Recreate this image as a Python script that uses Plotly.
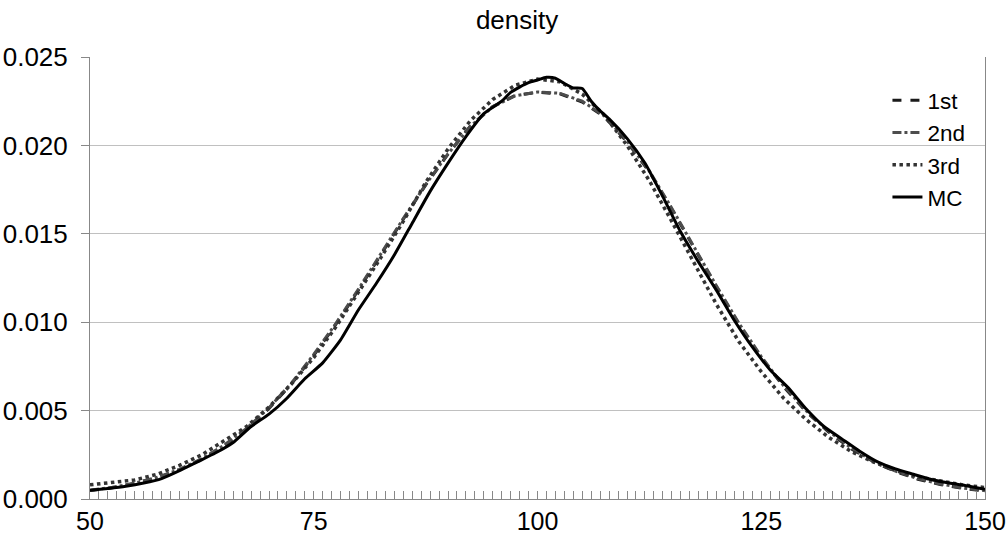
import plotly.graph_objects as go

# ---- data ----
x_grid = [50, 52.5, 55, 57.5, 60, 62.5, 65, 67.5, 70, 72.5, 75, 77.5, 80, 82.5, 85, 87.5,
          90, 92.5, 95, 97.5, 100, 102.5, 105, 107.5, 110, 112.5, 115, 117.5, 120, 122.5,
          125, 127.5, 130, 132.5, 135, 137.5, 140, 142.5, 145, 147.5, 150]

first = [0.00048, 0.00063, 0.00088, 0.00120, 0.00165, 0.00225, 0.00300, 0.00395, 0.00512, 0.00650,
         0.00812, 0.00990, 0.01182, 0.01383, 0.01582, 0.01775, 0.01950, 0.02110, 0.02220, 0.02282,
         0.02300, 0.02292, 0.02245, 0.02160, 0.02020, 0.01850, 0.01640, 0.01420, 0.01200, 0.00990,
         0.00800, 0.00635, 0.00495, 0.00380, 0.00285, 0.00212, 0.00155, 0.00112, 0.00082, 0.00060,
         0.00045]

second = [0.00050, 0.00066, 0.00090, 0.00123, 0.00168, 0.00228, 0.00305, 0.00400, 0.00516, 0.00655,
          0.00818, 0.00995, 0.01188, 0.01388, 0.01586, 0.01778, 0.01952, 0.02108, 0.02218, 0.02280,
          0.02302, 0.02295, 0.02250, 0.02165, 0.02025, 0.01855, 0.01645, 0.01425, 0.01205, 0.00995,
          0.00805, 0.00640, 0.00500, 0.00385, 0.00290, 0.00215, 0.00158, 0.00115, 0.00085, 0.00062,
          0.00047]

third = [0.00080, 0.00092, 0.00108, 0.00140, 0.00190, 0.00250, 0.00330, 0.00410, 0.00520, 0.00650,
         0.00800, 0.00975, 0.01170, 0.01365, 0.01570, 0.01790, 0.01980, 0.02140, 0.02260, 0.02340,
         0.02375, 0.02360, 0.02290, 0.02170, 0.02000, 0.01800, 0.01570, 0.01330, 0.01100, 0.00890,
         0.00720, 0.00570, 0.00450, 0.00350, 0.00270, 0.00210, 0.00160, 0.00125, 0.00100, 0.00080,
         0.00065]

mc_x = [50, 52, 54, 56, 58, 60, 62, 64, 66, 68, 70, 72, 74, 76, 78, 80, 82, 84, 86, 88, 90, 92,
        94, 96, 97, 98, 99, 100, 101, 102, 103, 104, 105, 106, 107, 108, 110, 112, 114, 116, 118,
        120, 122, 124, 126, 128, 130, 132, 134, 136, 138, 140, 142, 144, 146, 148, 150]
mc = [0.00050, 0.00060, 0.00072, 0.00090, 0.00115, 0.00160, 0.00210, 0.00260, 0.00320, 0.00410,
      0.00480, 0.00570, 0.00680, 0.00770, 0.00900, 0.01070, 0.01220, 0.01380, 0.01560, 0.01740,
      0.01900, 0.02050, 0.02180, 0.02250, 0.02300, 0.02330, 0.02355, 0.02370, 0.02385, 0.02380,
      0.02350, 0.02325, 0.02322, 0.02250, 0.02195, 0.02150, 0.02040, 0.01900, 0.01710, 0.01510,
      0.01340, 0.01180, 0.01010, 0.00860, 0.00730, 0.00630, 0.00510, 0.00410, 0.00340, 0.00270,
      0.00210, 0.00170, 0.00140, 0.00110, 0.00090, 0.00075, 0.00055]

x_ticks = [50, 75, 100, 125, 150]
y_ticks = [0.000, 0.005, 0.010, 0.015, 0.020, 0.025]

FONT = "Liberation Sans, Arial, sans-serif"

fig = go.Figure()
fig.add_trace(go.Scatter(x=x_grid, y=first, name="1st", mode="lines",
                         line=dict(color="#1a1a1a", width=3, dash="dash")))
fig.add_trace(go.Scatter(x=x_grid, y=second, name="2nd", mode="lines",
                         line=dict(color="#4d4d4d", width=3, dash="dashdot")))
fig.add_trace(go.Scatter(x=x_grid, y=third, name="3rd", mode="lines",
                         line=dict(color="#333333", width=3.5, dash="dot")))
fig.add_trace(go.Scatter(x=mc_x, y=mc, name="MC", mode="lines",
                         line=dict(color="#000000", width=3, shape="spline", smoothing=0.5)))

fig.update_layout(
    width=1006, height=535,
    margin=dict(l=90, r=21, t=57, b=36, autoexpand=False),
    paper_bgcolor="white", plot_bgcolor="white",
    font=dict(family=FONT, size=25, color="black"),
    title=dict(text="density", x=0.514, xanchor="center", y=0.963, yanchor="middle",
               font=dict(family=FONT, size=26, color="black")),
    showlegend=True,
    legend=dict(x=0.891, y=0.950, xanchor="left", yanchor="top", bgcolor="rgba(0,0,0,0)",
                font=dict(family=FONT, size=22.5, color="black"), itemwidth=30,
                tracegroupgap=0),
    xaxis=dict(range=[50, 150], tickvals=x_ticks, ticktext=[str(v) for v in x_ticks],
               automargin=False, ticklabeloverflow="allow",
               showgrid=False, zeroline=False, showline=True, linecolor="#888888", linewidth=1,
               ticks="inside", ticklen=8, tickcolor="#888888", ticklabelstandoff=0,
               minor=dict(dtick=1, ticks="inside", ticklen=8, tickcolor="#888888", showgrid=False),
               tickfont=dict(family=FONT, size=25, color="black")),
    yaxis=dict(range=[0, 0.025], tickvals=y_ticks, tickformat=".3f", automargin=False,
               showgrid=True, gridcolor="#c0c0c0", gridwidth=1, zeroline=False,
               showline=True, linecolor="#888888", linewidth=1, mirror=True,
               ticks="outside", ticklen=8, tickcolor="#888888", ticklabelstandoff=8,
               tickfont=dict(family=FONT, size=26, color="black")),
)

# remove the default 8px page margin so the figure fills the window exactly
fig.write_html("out.html", config={"displayModeBar": False},
               post_script="document.body.style.margin='0px';")
